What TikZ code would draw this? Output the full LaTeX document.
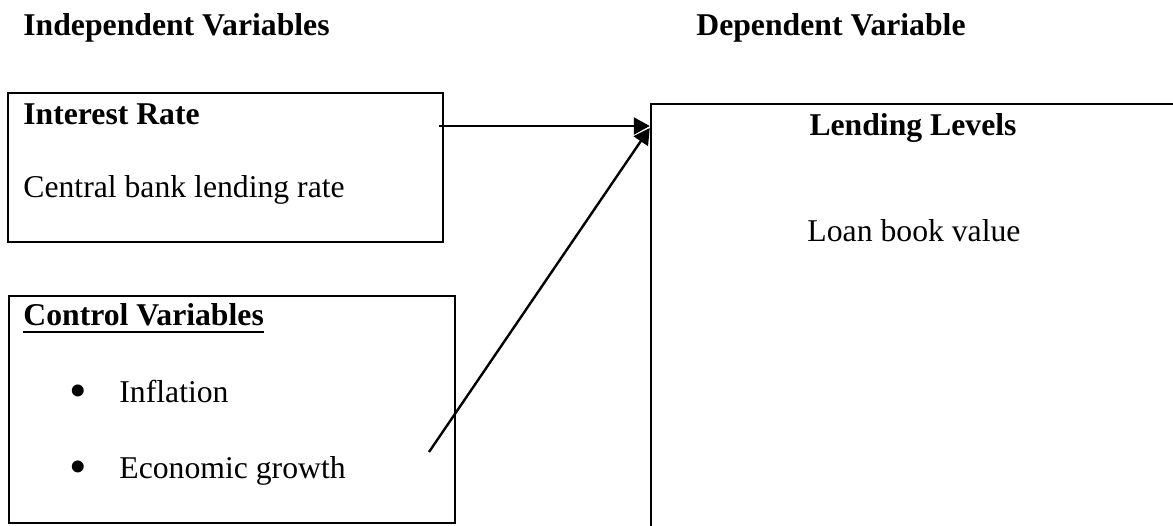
\documentclass[tikz,border=0pt]{standalone}
\usepackage{fontspec}
\setmainfont{Liberation Serif}
\usetikzlibrary{arrows.meta}
\begin{document}
\begin{tikzpicture}[x=0.5pt,y=-0.5pt,
  every node/.style={font=\fontsize{15.85}{19}\selectfont, inner sep=0pt},
  frame/.style={draw, line width=1.25pt, inner sep=0pt},
  txt/.style={anchor=base west},
  bold/.style={anchor=base west, font=\fontsize{15.85}{19}\selectfont\bfseries},
  bul/.style={anchor=base, font=\fontsize{25}{30}\selectfont},
  conn/.style={line width=1.2pt, -{Triangle[length=8pt,width=8.5pt]}}]
\useasboundingbox (0,0) rectangle (1173,525);
\clip (0,0) rectangle (1173,525);
% headings
\node[bold] (hind) at (23,35) {Independent Variables};
\node[bold] (hdep) at (696,35) {Dependent Variable};
% boxes
\node[frame, minimum width=217.5pt, minimum height=74.5pt] (ir) at (225.5,167.5) {};
\node[frame, minimum width=223pt, minimum height=113.5pt] (cv) at (232,409.5) {};
\node[frame, minimum width=262.5pt, minimum height=240pt] (lend) at (913.5,344) {};
% box texts
\node[bold] (irt) at (23,124) {Interest Rate};
\node[txt] (irs) at (23,197) {Central bank lending rate};
\node[bold] (cvt) at (23,325) {Control Variables};
\draw[line width=1.1pt] ([yshift=-3.6pt]cvt.base west) -- ([yshift=-3.6pt]cvt.base east);
\node[bul] (b1) at (78,407) {•};
\node[txt] (inf) at (119,402) {Inflation};
\node[bul] (b2) at (78,483) {•};
\node[txt] (eco) at (119,478) {Economic growth};
\node[anchor=base] (llt) at (913,135) {\bfseries Lending Levels};
\node[anchor=base] (lbv) at (914,241) {Loan book value};
% connectors
\coordinate (s1) at (439,126);
\coordinate (s2) at (429,452);
\coordinate (t1) at (lend.west |- s1);
\coordinate (t2) at ([yshift=-1pt]t1);
\draw[conn] (s1) -- (t1);
\draw[conn] (s2) -- (t2);
\end{tikzpicture}
\end{document}
